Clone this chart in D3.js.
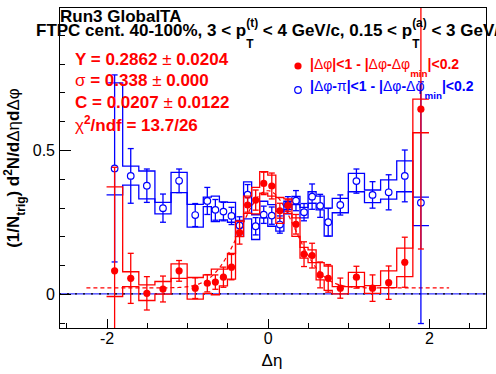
<!DOCTYPE html>
<html>
<head>
<meta charset="utf-8">
<script src="https://cdn.jsdelivr.net/npm/d3@7"></script>
<style>
	body { margin: 0; background: white; }
	text { font-family: "Liberation Sans", Arial, Helvetica, sans-serif; white-space: pre; }
</style>
</head>
<body>
<svg id="chart" width="496" height="374"></svg>
<script>
// bin edges and centres in delta-eta (0.2 wide outside, 0.1 wide in the middle)
var etaEdges = [-2.0, -1.8, -1.6, -1.4, -1.2, -1.0, -0.8, -0.7, -0.6, -0.5, -0.4, -0.3, -0.2, -0.1, 0.0,
	0.1, 0.2, 0.3, 0.4, 0.5, 0.6, 0.7, 0.8, 1.0, 1.2, 1.4, 1.6, 1.8, 2.0]
var etaCenters = [-1.9, -1.7, -1.5, -1.3, -1.1, -0.9, -0.75, -0.65, -0.55, -0.45, -0.35, -0.25, -0.15, -0.05,
	0.05, 0.15, 0.25, 0.35, 0.45, 0.55, 0.65, 0.75, 0.9, 1.1, 1.3, 1.5, 1.7, 1.9]

// |dphi|<1 (red, filled)
var nearY = [0.080, 0.054, 0.002, 0.017, 0.080, 0.020, 0.037, 0.041, 0.058, 0.093, 0.213, 0.309, 0.326, 0.384,
	0.375, 0.289, 0.307, 0.242, 0.138, 0.133, 0.066, 0.054, 0.020, 0.058, 0.020, 0.039, 0.110, 0.642]
var nearErr = [0.36, 0.087, 0.058, 0.045, 0.036, 0.036, 0.03, 0.025, 0.035, 0.044, 0.04, 0.025, 0.035, 0.039,
	0.045, 0.026, 0.02, 0.034, 0.043, 0.043, 0.045, 0.048, 0.035, 0.038, 0.046, 0.058, 0.087, 0.486]
var nearSysHi = [0.372, 0.077, 0.031, 0.043, 0.104, 0.057, 0.066, 0.086, 0.086, 0.141, 0.253, 0.34, 0.37, 0.425,
	0.413, 0.335, 0.33, 0.264, 0.162, 0.153, 0.109, 0.097, 0.025, 0.075, 0.029, 0.080, 0.159, 0.677]
var nearSysLo = [-0.009, 0.025, -0.023, -0.001, 0.054, -0.018, 0.002, -0.003, 0.028, 0.051, 0.199, 0.28, 0.278, 0.35,
	0.34, 0.245, 0.28, 0.2, 0.124, 0.109, 0.049, 0.012, 0.0, 0.025, 0.002, 0.022, 0.060, 0.560]

// |dphi-pi|<1 (blue, open)
var awayY = [0.436, 0.410, 0.376, 0.298, 0.393, 0.274, 0.323, 0.292, 0.286, 0.271, 0.238, 0.345, 0.235, 0.275,
	0.272, 0.241, 0.308, 0.324, 0.284, 0.338, 0.306, 0.249, 0.309, 0.392, 0.344, 0.353, 0.410, 0.317]
var awayErr = [0.325, 0.095, 0.058, 0.049, 0.041, 0.04, 0.047, 0.036, 0.032, 0.03, 0.03, 0.035, 0.03, 0.03,
	0.03, 0.03, 0.03, 0.035, 0.03, 0.044, 0.04, 0.048, 0.035, 0.042, 0.046, 0.061, 0.09, 0.42]
var awaySysHi = [0.733, 0.444, 0.427, 0.318, 0.422, 0.311, 0.336, 0.340, 0.32, 0.318, 0.255, 0.389, 0.275, 0.322,
	0.31, 0.287, 0.322, 0.339, 0.301, 0.355, 0.34, 0.298, 0.332, 0.419, 0.361, 0.396, 0.462, 0.336]
var awaySysLo = [0.344, 0.378, 0.33, 0.278, 0.352, 0.232, 0.303, 0.251, 0.257, 0.249, 0.2, 0.261, 0.189, 0.264,
	0.235, 0.218, 0.293, 0.31, 0.264, 0.315, 0.292, 0.201, 0.282, 0.355, 0.317, 0.329, 0.355, 0.237]

// gaussian + constant fit, parameters as printed
var fitParams = [0.2862, 0.338, 0.0207]   // Y, sigma, C
var fitRange = [-2.25, 2.25]

var xMajor = [-2, 0, 2]
var xMinor = [-2.5, -1.5, -1, -0.5, 0.5, 1, 1.5, 2.5]
var yMajor = [0, 0.5]
var yMinor = [-0.1, 0.1, 0.2, 0.3, 0.4, 0.6, 0.7, 0.8, 0.9]

var svg = d3.select('#chart')

var x = d3.scaleLinear().domain([-2.59, 2.72]).range([59, 487])
var y = d3.scaleLinear().domain([-0.122, 0.997]).range([329, 7])

svg.append('rect').attr('width', 496).attr('height', 374).attr('fill', 'white')

svg.append('clipPath').attr('id', 'frameClip')
	.append('rect').attr('x', 59).attr('y', 7).attr('width', 428).attr('height', 322)

var plot = svg.append('g').attr('clip-path', 'url(#frameClip)')

// zero line
plot.append('line')
	.attr('x1', 59).attr('x2', 487).attr('y1', y(0)).attr('y2', y(0))
	.attr('stroke', '#0000ff').attr('stroke-width', 1)
plot.append('line')
	.attr('x1', 59).attr('x2', 487).attr('y1', y(0)).attr('y2', y(0))
	.attr('stroke', 'black').attr('stroke-width', 1.3).attr('stroke-dasharray', '2,6')

// fit curve
function gaus(v) {
	var Y = fitParams[0], s = fitParams[1], C = fitParams[2]
	return C + Y / (Math.sqrt(2 * Math.PI) * s) * Math.exp(-v * v / (2 * s * s))
}
var fitLine = d3.line().x(d => x(d[0])).y(d => y(d[1]))
plot.append('path')
	.datum(d3.range(fitRange[0], fitRange[1] + 0.0001, 0.01).map(v => [v, gaus(v)]))
	.attr('d', fitLine)
	.attr('fill', 'none')
	.attr('stroke', '#ff0000')
	.attr('stroke-width', 1.2)
	.attr('stroke-dasharray', '4,3')

function drawSeries(vals, errs, hi, lo, color, open) {
	var g = plot.append('g')
	var step = d3.line().x(d => x(d[0])).y(d => y(d[1]))
	var r = open ? 3.3 : 3.6

	// systematic steps (upper and lower outlines)
	;[hi, lo].forEach(function(s) {
		var pts = []
		s.forEach(function(v, i) { pts.push([etaEdges[i], v], [etaEdges[i + 1], v]) })
		g.append('path')
			.attr('d', step(pts))
			.attr('fill', 'none')
			.attr('stroke', color)
			.attr('stroke-width', 1.3)
	})

	// stat error bars
	vals.forEach(function(v, i) {
		var cx = x(etaCenters[i]), cy = y(v)
		var top = y(v + errs[i]), bot = y(v - errs[i])
		var gap = open ? r : 0
		if (cy - top > gap) {
			g.append('line').attr('x1', cx).attr('x2', cx).attr('y1', top).attr('y2', cy - gap)
			g.append('line').attr('x1', cx - 3).attr('x2', cx + 3).attr('y1', top).attr('y2', top)
		}
		if (bot - cy > gap) {
			g.append('line').attr('x1', cx).attr('x2', cx).attr('y1', cy + gap).attr('y2', bot)
			g.append('line').attr('x1', cx - 3).attr('x2', cx + 3).attr('y1', bot).attr('y2', bot)
		}
	})
	g.selectAll('line').attr('stroke', color).attr('stroke-width', 1.3)

	g.selectAll('circle')
		.data(vals)
		.enter()
		.append('circle')
			.attr('cx', (d, i) => x(etaCenters[i]))
			.attr('cy', d => y(d))
			.attr('r', r)
			.attr('fill', open ? 'none' : color)
			.attr('stroke', color)
			.attr('stroke-width', open ? 1.2 : 0)
}

drawSeries(awayY, awayErr, awaySysHi, awaySysLo, '#0000ff', true)
drawSeries(nearY, nearErr, nearSysHi, nearSysLo, '#ff0000', false)

// axes, ticks pointing inwards
function styleAxis(g) {
	g.select('.domain').remove()
	g.attr('color', 'black')
	g.selectAll('line').attr('stroke-width', 1).attr('shape-rendering', 'crispEdges')
	g.selectAll('text')
		.style('font-family', '"Liberation Sans", Arial, Helvetica, sans-serif')
		.style('font-size', '16px')
}

svg.append('g')
	.attr('transform', 'translate(0,329)')
	.call(d3.axisBottom(x).tickValues(xMajor).tickSize(-10).tickPadding(4).tickFormat(d => String(d)))
	.call(styleAxis)
svg.append('g')
	.attr('transform', 'translate(0,329)')
	.call(d3.axisBottom(x).tickValues(xMinor).tickSize(-6).tickFormat(''))
	.call(styleAxis)
svg.append('g')
	.attr('transform', 'translate(59,0)')
	.call(d3.axisLeft(y).tickValues(yMajor).tickSize(-12).tickPadding(4).tickFormat(d => String(d)))
	.call(styleAxis)
svg.append('g')
	.attr('transform', 'translate(59,0)')
	.call(d3.axisLeft(y).tickValues(yMinor).tickSize(-6).tickFormat(''))
	.call(styleAxis)

svg.append('rect')
	.attr('x', 59.5).attr('y', 7.5).attr('width', 427).attr('height', 321)
	.attr('fill', 'none').attr('stroke', 'black').attr('stroke-width', 1)
	.attr('shape-rendering', 'crispEdges')

// rich text: strings are in the main weight, {g:} greek/symbols in normal weight,
// {sup:, sub:} are stacked scripts
function put(g, t, px, py, sz, w) {
	var el = g.append('text')
		.attr('x', px).attr('y', py)
		.style('font-size', sz + 'px')
		.style('font-weight', w)
		.text(t)
	return el.node().getComputedTextLength()
}

function rich(parent, parts, opt) {
	var g = parent.append('g').attr('fill', opt.color || 'black')
	var cx = 0, ss = opt.size * 0.7
	parts.forEach(function(p) {
		if (typeof p === 'string') cx += put(g, p, cx, 0, opt.size, opt.weight)
		else if (p.g) cx += put(g, p.g, cx, 0, opt.size, 'normal')
		else {
			var w1 = p.sup ? put(g, p.sup, cx, opt.supDy, ss, opt.weight) : 0
			var w2 = p.sub ? put(g, p.sub, cx, opt.subDy, ss, opt.weight) : 0
			cx += Math.max(w1, w2)
		}
	})
	return { g: g, width: cx }
}

// titles
rich(svg, ['Run3 GlobalTA'], { size: 17, weight: 'bold' }).g
	.attr('transform', 'translate(60,22)')
rich(svg, ['FTPC cent. 40-100%, 3 < p', { sup: '(t)', sub: 'T' }, ' < 4 GeV/c, 0.15 < p', { sup: '(a)', sub: 'T' }, ' < 3 GeV/c'],
	{ size: 17, weight: 'bold', supDy: -9, subDy: 12 }).g
	.attr('transform', 'translate(36,36)')

// fit results
var fitText = [
	['Y = 0.2862 ', { g: '±' }, ' 0.0204'],
	[{ g: 'σ' }, ' = 0.338 ', { g: '±' }, ' 0.000'],
	['C = 0.0207 ', { g: '±' }, ' 0.0122'],
	[{ g: 'χ' }, { sup: '2' }, '/ndf = 13.7/26']
]
var fitBase = [65, 86, 108, 131]
fitText.forEach(function(parts, i) {
	rich(svg, parts, { size: 17, weight: 'bold', color: '#ff0000', supDy: -7 }).g
		.attr('transform', 'translate(75,' + fitBase[i] + ')')
})

// legend
svg.append('circle').attr('cx', 298).attr('cy', 66).attr('r', 3.6).attr('fill', '#ff0000')
svg.append('circle').attr('cx', 298).attr('cy', 90).attr('r', 3.3)
	.attr('fill', 'none').attr('stroke', '#0000ff').attr('stroke-width', 1.2)
rich(svg, ['|', { g: 'Δφ' }, '|<1 - |', { g: 'Δφ' }, '-', { g: 'Δφ' }, { sub: 'min' }, '|<0.2'],
	{ size: 14, weight: 'bold', color: '#ff0000', subDy: 8 }).g
	.attr('transform', 'translate(310,68.5)')
rich(svg, ['|', { g: 'Δφ' }, '-', { g: 'π' }, '|<1 - |', { g: 'Δφ' }, '-', { g: 'Δφ' }, { sub: 'min' }, '|<0.2'],
	{ size: 14, weight: 'bold', color: '#0000ff', subDy: 8 }).g
	.attr('transform', 'translate(310,91)')

// axis titles
svg.append('text')
	.attr('x', 272).attr('y', 366)
	.attr('text-anchor', 'middle')
	.style('font-size', '17px')
	.text('Δη')

var yTitle = svg.append('g').attr('transform', 'translate(18.5,168) rotate(-90)')
var yt = rich(yTitle, ['(1/N', { sub: 'trig' }, ') d', { sup: '2' }, 'N/d', { g: 'Δη' }, 'd', { g: 'Δφ' }],
	{ size: 17, weight: 'bold', supDy: -7, subDy: 6 })
yt.g.attr('transform', 'translate(' + (-yt.width / 2) + ',0)')
</script>
</body>
</html>
